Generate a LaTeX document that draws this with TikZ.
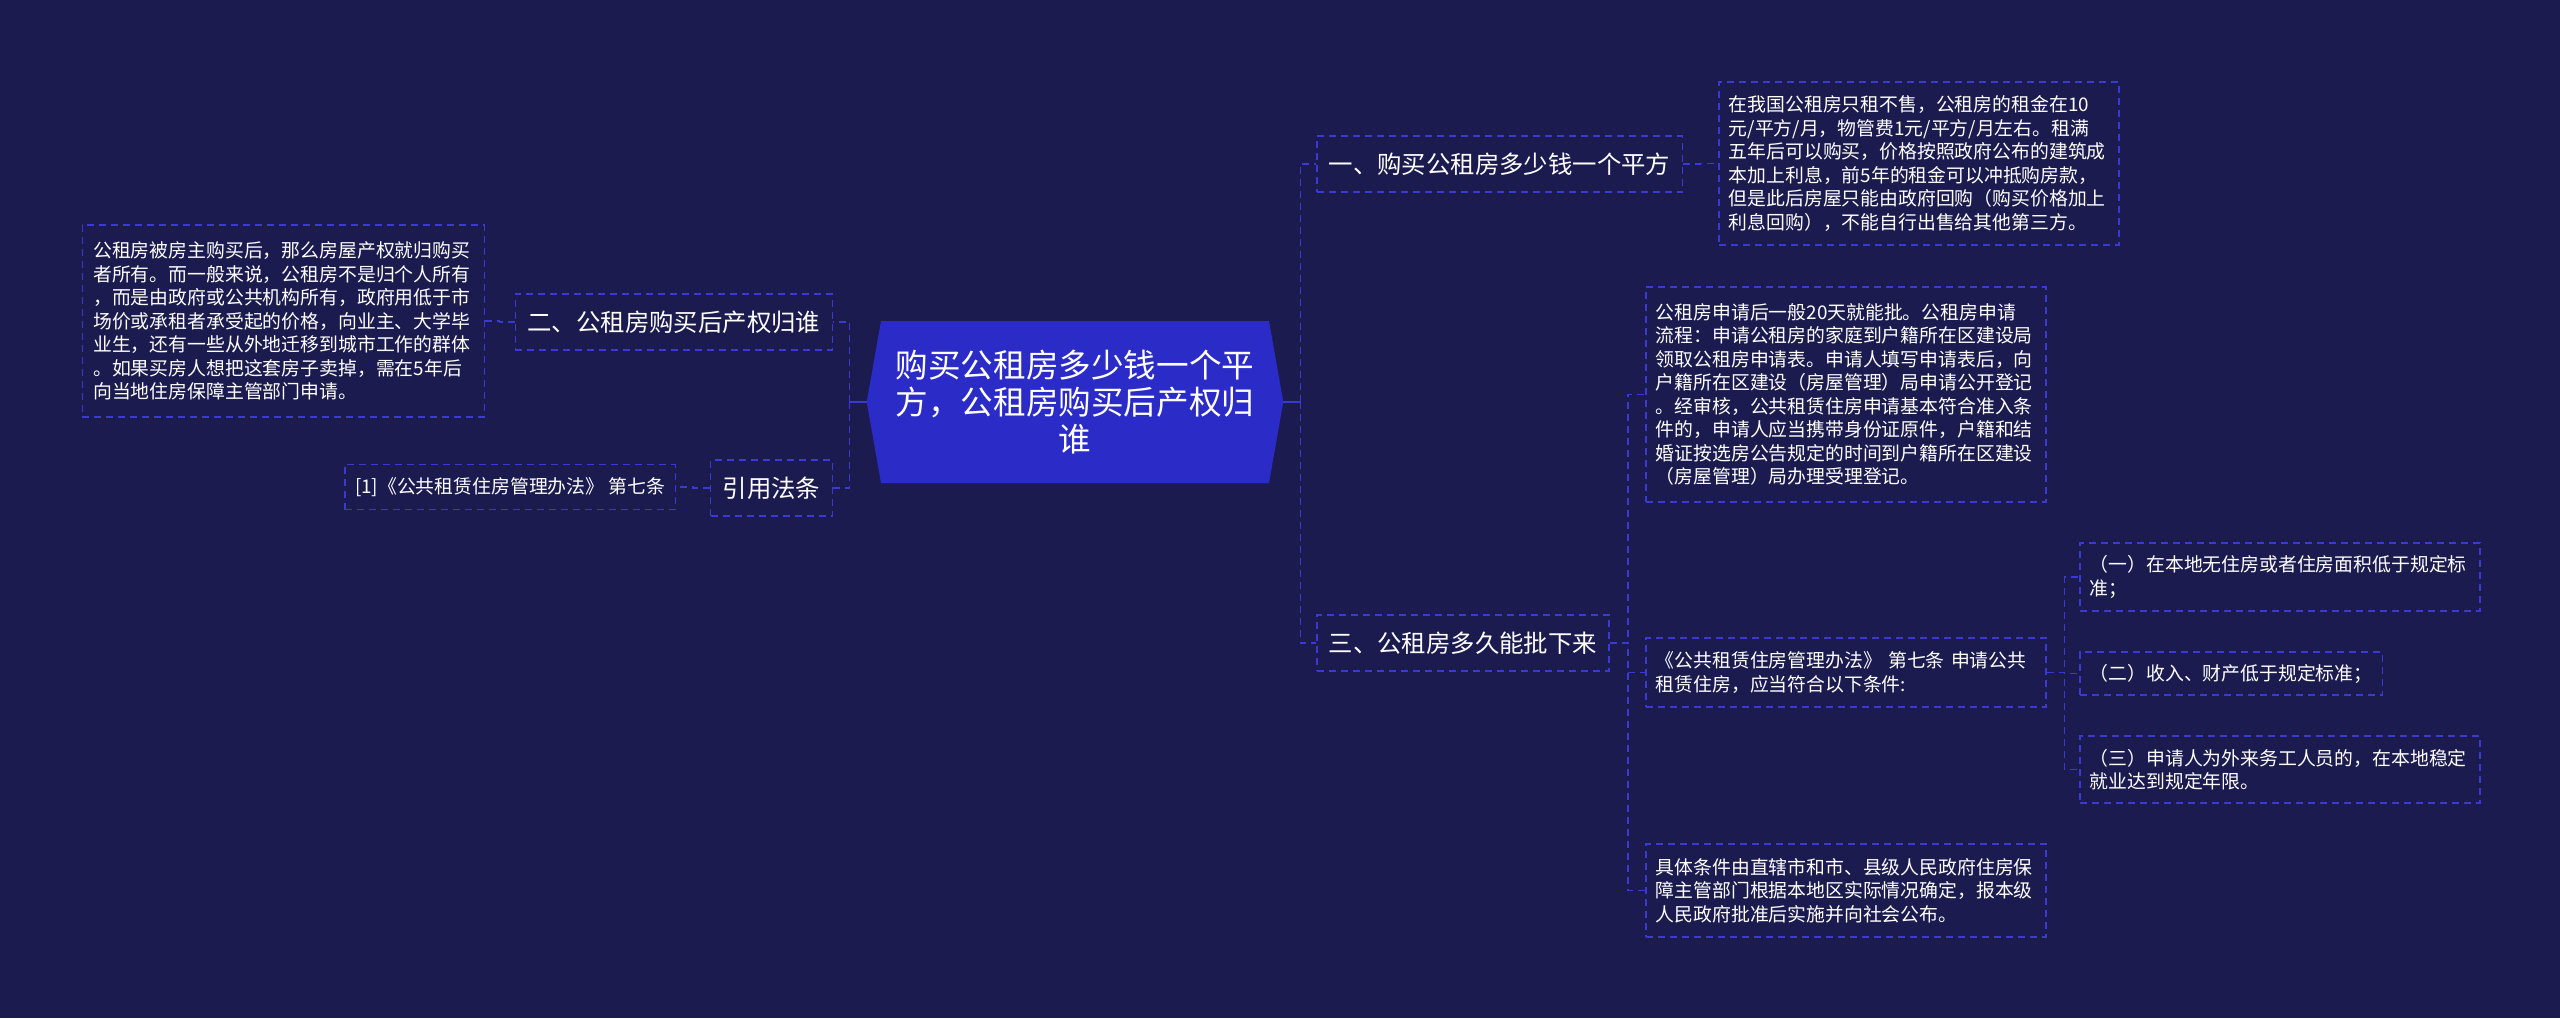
\documentclass[tikz,border=0pt]{standalone}
\usepackage{fontspec}
\setmainfont{Noto Sans CJK SC}
\usetikzlibrary{shapes.symbols}
\definecolor{bgnavy}{HTML}{1B1B50}
\definecolor{rootblue}{HTML}{2B2BC8}
\definecolor{linkblue}{HTML}{3A3AD2}

\begin{document}
\begin{tikzpicture}[x=1pt, y=-1pt,
  rootbox/.style={shape=signal, signal to=east and west, signal pointer angle=160,
    fill=rootblue, text=white, font=\fontsize{32.6}{36.7}\selectfont,
    text width=360pt, align=center, minimum height=162pt, inner xsep=14pt, inner ysep=4pt},
  topic/.style={draw=linkblue, dash pattern=on 7pt off 5pt, line width=1.5pt, text=white,
    font=\fontsize{24.4}{28}\selectfont, minimum height=56pt, inner xsep=12pt},
  leaf/.style={draw=linkblue, dash pattern=on 7pt off 5pt, line width=1.5pt, text=white,
    font=\fontsize{18.85}{23.5}\selectfont, align=left, inner xsep=10pt, inner ysep=4pt},
  link/.style={draw=linkblue, dash pattern=on 7pt off 5pt, line width=1.5pt}]

\fill[bgnavy] (0,0) rectangle (2560,1018);
\useasboundingbox (0,0) rectangle (2560,1018);

% centre
\node[rootbox] (root) at (1075,402) {购买公租房多少钱一个平\\方，公租房购买后产权归\\谁};

% first level
\node[topic, anchor=west] (buy) at (1316,164) {一、购买公租房多少钱一个平方};
\node[topic, anchor=east] (owner) at (833,322) {二、公租房购买后产权归谁};
\node[topic, anchor=east] (law) at (833,488) {引用法条};
\node[topic, anchor=west] (approve) at (1316,643) {三、公租房多久能批下来};

% texts
\node[leaf, anchor=west, text width=380pt, minimum height=163pt] (buytext) at (1718,163.5)
  {在我国公租房只租不售，公租房的租金在10\\元/平方/月，物管费1元/平方/月左右。租满\\五年后可以购买，价格按照政府公布的建筑成\\本加上利息，前5年的租金可以冲抵购房款，\\但是此后房屋只能由政府回购（购买价格加上\\利息回购），不能自行出售给其他第三方。};
\node[leaf, anchor=east, text width=380pt, inner xsep=11pt, minimum height=192pt] (ownertext) at (485,321)
  {公租房被房主购买后，那么房屋产权就归购买\\者所有。而一般来说，公租房不是归个人所有\\，而是由政府或公共机构所有，政府用低于市\\场价或承租者承受起的价格，向业主、大学毕\\业生，还有一些从外地迁移到城市工作的群体\\。如果买房人想把这套房子卖掉，需在5年后\\向当地住房保障主管部门申请。};
\node[leaf, anchor=east, minimum height=45pt] (lawref) at (676,487) {[1]《公共租赁住房管理办法》 第七条};
\node[leaf, anchor=west, text width=380pt, minimum height=215pt] (approvetext) at (1645,394.5)
  {公租房申请后一般20天就能批。公租房申请\\流程：申请公租房的家庭到户籍所在区建设局\\领取公租房申请表。申请人填写申请表后，向\\户籍所在区建设（房屋管理）局申请公开登记\\。经审核，公共租赁住房申请基本符合准入条\\件的，申请人应当携带身份证原件，户籍和结\\婚证按选房公告规定的时间到户籍所在区建设\\（房屋管理）局办理受理登记。};
\node[leaf, anchor=west, text width=380pt, minimum height=69pt] (conditions) at (1645,672.5)
  {《公共租赁住房管理办法》 第七条 申请公共\\租赁住房，应当符合以下条件:};
\node[leaf, anchor=west, text width=380pt, minimum height=93pt] (publish) at (1645,890.5)
  {具体条件由直辖市和市、县级人民政府住房保\\障主管部门根据本地区实际情况确定，报本级\\人民政府批准后实施并向社会公布。};
\node[leaf, anchor=west, text width=380pt, minimum height=68pt] (condone) at (2079,577)
  {（一）在本地无住房或者住房面积低于规定标\\准；};
\node[leaf, anchor=west, minimum height=43pt] (condtwo) at (2079,673.5) {（二）收入、财产低于规定标准；};
\node[leaf, anchor=west, text width=380pt, minimum height=67pt] (condthree) at (2079,769.5)
  {（三）申请人为外来务工人员的，在本地稳定\\就业达到规定年限。};

% connectors
\draw[linkblue, line width=2.5pt] (root.east) -- ++(17,0);
\draw[linkblue, line width=2.5pt] (root.west) -- ++(-17,0);
\foreach \c in {buy,approve}
  \draw[link] (root.east) ++(17,0) |- (\c.west);
\foreach \c in {owner,law}
  \draw[link] (root.west) ++(-17,0) |- (\c.east);
\draw[link] (buy.east) -- ++(17,0) |- (buytext.west);
\draw[link] (owner.west) -- ++(-15,0) |- (ownertext.east);
\draw[link] (law.west) -- ++(-17,0) |- (lawref.east);
\foreach \c in {approvetext,conditions,publish}
  \draw[link] (approve.east) -- ++(18,0) |- (\c.west);
\foreach \c in {condone,condtwo,condthree}
  \draw[link] (conditions.east) -- ++(18,0) |- (\c.west);

\end{tikzpicture}
\end{document}
